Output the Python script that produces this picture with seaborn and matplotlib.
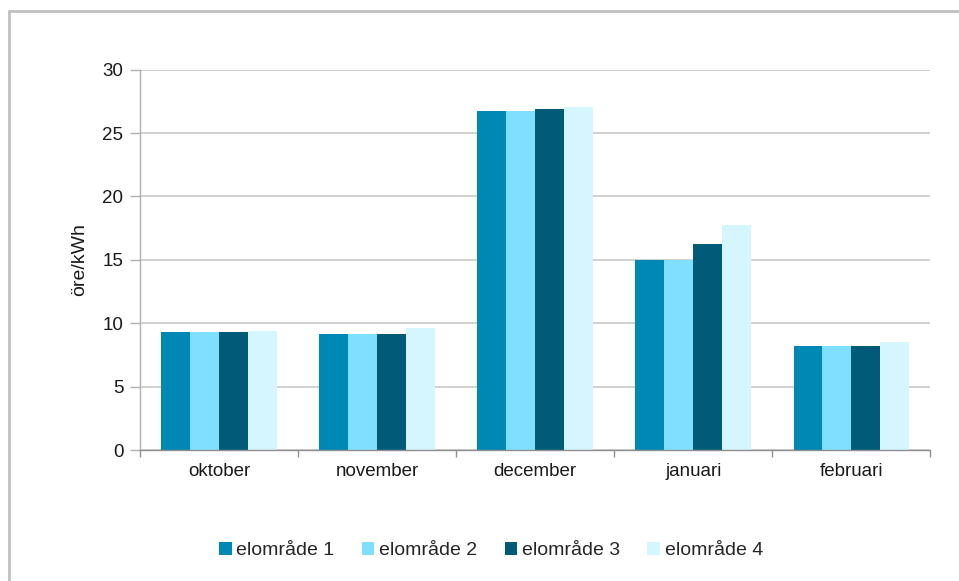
import matplotlib
matplotlib.use("Agg")
import matplotlib.pyplot as plt
import seaborn as sns
import pandas as pd
from matplotlib.patches import Patch
from matplotlib.lines import Line2D

months = ["oktober", "november", "december", "januari", "februari"]
series_names = ["elområde 1", "elområde 2", "elområde 3", "elområde 4"]
se1 = [9.35, 9.18, 26.73, 15.02, 8.22]
se2 = [9.35, 9.18, 26.73, 15.02, 8.22]
se3 = [9.35, 9.18, 26.87, 16.26, 8.22]
se4 = [9.42, 9.63, 27.08, 17.74, 8.54]
colors = ["#0088B4", "#80DFFF", "#005A78", "#D5F5FF"]
yticks = [0, 5, 10, 15, 20, 25, 30]

rows = []
for name, vals in zip(series_names, [se1, se2, se3, se4]):
    for m, v in zip(months, vals):
        rows.append({"month": m, "area": name, "value": v})
df = pd.DataFrame(rows)

sns.set_theme(style="white")
plt.rcParams["font.family"] = ["Liberation Sans", "DejaVu Sans"]

fig = plt.figure(figsize=(9.59, 5.81), dpi=100)
ax = fig.add_axes([0.146, 0.2254, 0.824, 0.6546])

sns.barplot(data=df, x="month", y="value", hue="area", order=months,
            hue_order=series_names, palette=colors, saturation=1,
            width=0.73, gap=0, ax=ax, legend=False, edgecolor="none")

ax.set_ylim(0, 30)
ax.set_xlim(-0.5, len(months) - 0.5)
ax.set_yticks(yticks)
ax.set_yticklabels([str(t) for t in yticks], fontsize=13.5, color="#1a1a1a")
ax.yaxis.grid(True, color="#c8c8c8", linewidth=1.2)
ax.set_axisbelow(True)
ax.tick_params(axis="y", length=7, width=1, color="#b0b0b0", left=True, pad=5)
ax.tick_params(axis="x", which="major", length=0, pad=9, labelsize=13.5, labelcolor="#1a1a1a")
ax.set_xticks([i - 0.5 for i in range(len(months) + 1)], minor=True)
ax.tick_params(axis="x", which="minor", length=5, width=1, color="#909090", bottom=True)
for s in ["top", "right"]:
    ax.spines[s].set_visible(False)
ax.spines["left"].set_color("#b0b0b0")
ax.spines["bottom"].set_color("#909090")
ax.spines["left"].set_linewidth(1)
ax.spines["bottom"].set_linewidth(1)
ax.set_xlabel("")
ax.set_ylabel("öre/kWh", fontsize=14, color="#1a1a1a", labelpad=10)

handles = [Patch(facecolor=c, edgecolor="none", label=n) for c, n in zip(colors, series_names)]
fig.legend(handles=handles, loc="center", bbox_to_anchor=(0.512, 0.053), ncol=4,
           frameon=False, fontsize=14, handlelength=0.65, handleheight=0.65,
           handletextpad=0.25, columnspacing=1.4)

# outer frame: only top and left edges visible
fig.add_artist(Line2D([8.5 / 959, 959 / 959], [1 - 11 / 581, 1 - 11 / 581],
                      transform=fig.transFigure, color="#c0c0c0", linewidth=2))
fig.add_artist(Line2D([8.5 / 959, 8.5 / 959], [0, 1 - 11 / 581],
                      transform=fig.transFigure, color="#c0c0c0", linewidth=2))

fig.savefig("out.png", dpi=100)
